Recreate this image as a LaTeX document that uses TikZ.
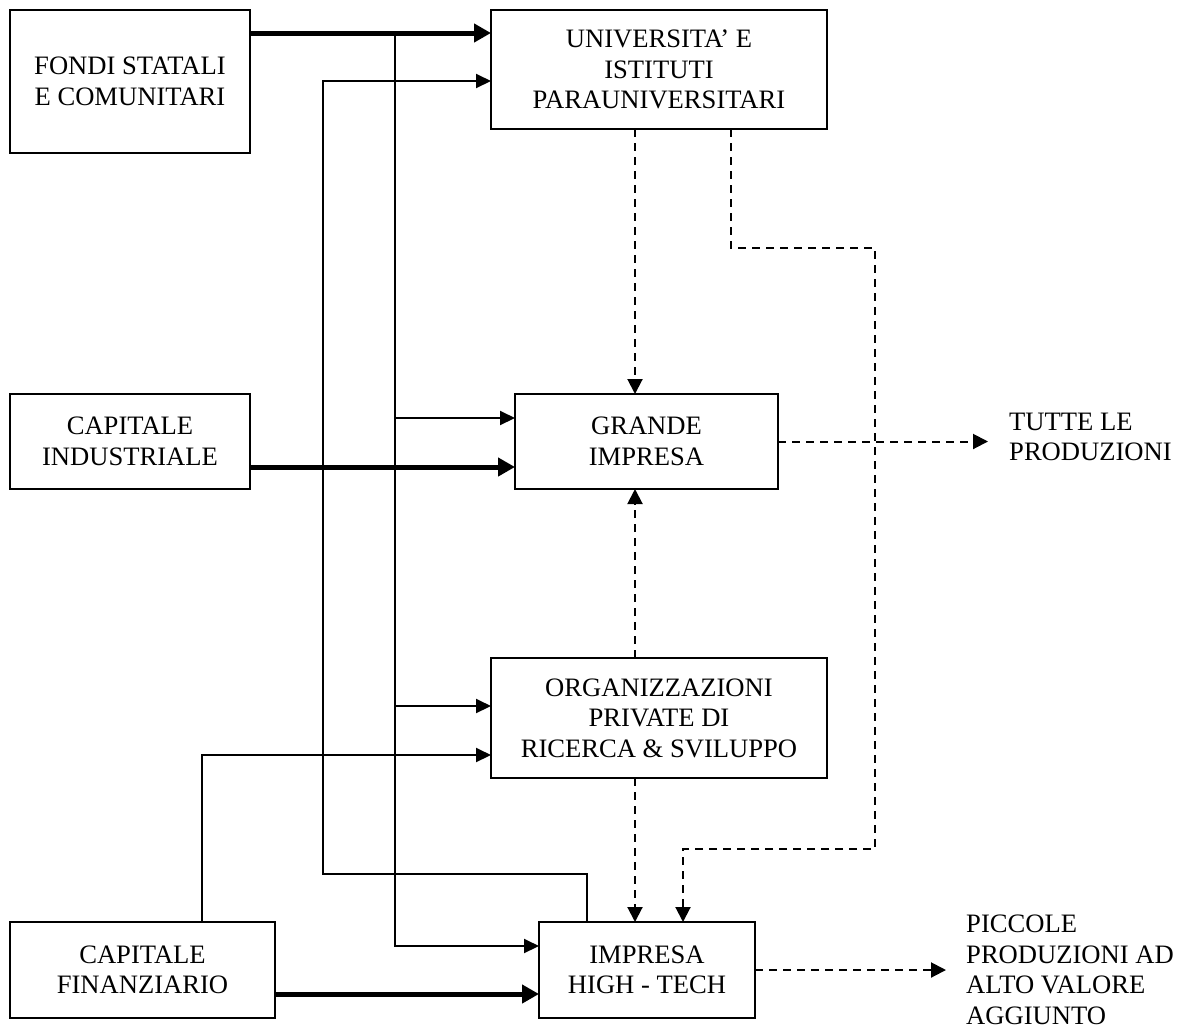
\documentclass[tikz,border=0pt]{standalone}
\usepackage{fontspec}
\setmainfont{Liberation Serif}
\usetikzlibrary{arrows.meta}
\begin{document}
\begin{tikzpicture}[x=1pt,y=-1pt,
  box/.style={draw,line width=2pt,rectangle,inner sep=0pt,outer sep=0pt,align=center,
    font=\fontsize{26.6}{30.6}\selectfont},
  lbl/.style={inner sep=0pt,align=left,anchor=west,font=\fontsize{26.6}{30.6}\selectfont},
  thn/.style={line width=2pt,-{Triangle[length=15pt,width=14pt]}},
  plain/.style={line width=2pt},
  thk/.style={line width=5pt,-{Triangle[length=17pt,width=18pt]}},
  dsh/.style={line width=2pt,dash pattern=on 8pt off 6pt,-{Triangle[length=15pt,width=15pt]}}]
\useasboundingbox (0,0) rectangle (1188,1029);

\node[box,minimum width=240pt,minimum height=143pt] (fondi) at (130,81.5) {FONDI STATALI\\E COMUNITARI};
\node[box,minimum width=336pt,minimum height=119pt] (univ) at (659,69.5) {UNIVERSITA’ E\\ISTITUTI\\PARAUNIVERSITARI};
\node[box,minimum width=240pt,minimum height=95pt] (capind) at (130,441.5) {CAPITALE\\INDUSTRIALE};
\node[box,minimum width=263pt,minimum height=95pt] (grande) at (646.5,441.5) {GRANDE\\IMPRESA};
\node[box,minimum width=336pt,minimum height=120pt] (org) at (659,718) {ORGANIZZAZIONI\\PRIVATE DI\\RICERCA \& SVILUPPO};
\node[box,minimum width=265pt,minimum height=96pt] (capfin) at (142.5,970) {CAPITALE\\FINANZIARIO};
\node[box,minimum width=216pt,minimum height=96pt] (impresa) at (647,970) {IMPRESA\\HIGH - TECH};

\node[lbl] (tutte) at (1009,437) {TUTTE LE\\PRODUZIONI};
\node[lbl] (piccole) at (966,970) {PICCOLE\\PRODUZIONI AD\\ALTO VALORE\\AGGIUNTO};

\coordinate (busTop) at (395,33);
\coordinate (busG) at (395,418);
\coordinate (busO) at (395,706);
\coordinate (busI) at (395,946);
\coordinate (rx) at (587,874);
\coordinate (retA) at (323,874);
\coordinate (retB) at (323,81);
\coordinate (cf1) at (202,755);
\coordinate (ci) at (0,467);
\coordinate (cfT) at (0,994);
\coordinate (gx) at (635,300);
\coordinate (d1) at (731,248);
\coordinate (d2) at (875,248);
\coordinate (d3) at (875,849);
\coordinate (d4) at (683,849);
\coordinate (tArr) at (988,441.5);
\coordinate (pArr) at (946,970);

% thick flows
\draw[thk] (fondi.east |- busTop) -- (univ.west |- busTop);
\draw[thk] (capind.east |- ci) -- (grande.west |- ci);
\draw[thk] (capfin.east |- cfT) -- (impresa.west |- cfT);

% bus from state funds
\draw[thn] (busTop) |- (impresa.west |- busI);
\draw[thn] (busG) -- (grande.west |- busG);
\draw[thn] (busO) -- (org.west |- busO);

% return from high-tech to university
\draw[thn] (impresa.north -| rx) -- (rx) -- (retA) -- (retB) -- (univ.west |- retB);

% financial capital to R&D
\draw[thn] (capfin.north -| cf1) -- (cf1) -- (org.west |- cf1);

% dashed knowledge flows
\draw[dsh] (univ.south -| gx) -- (grande.north -| gx);
\draw[dsh] (org.north -| gx) -- (grande.south -| gx);
\draw[dsh] (org.south -| gx) -- (impresa.north -| gx);
\draw[dsh] (univ.south -| d1) -- (d1) -- (d2) -- (d3) -- (d4) -- (impresa.north -| d4);
\draw[dsh] (grande.east) -- (tArr);
\draw[dsh] (impresa.east) -- (pArr);
\end{tikzpicture}
\end{document}
